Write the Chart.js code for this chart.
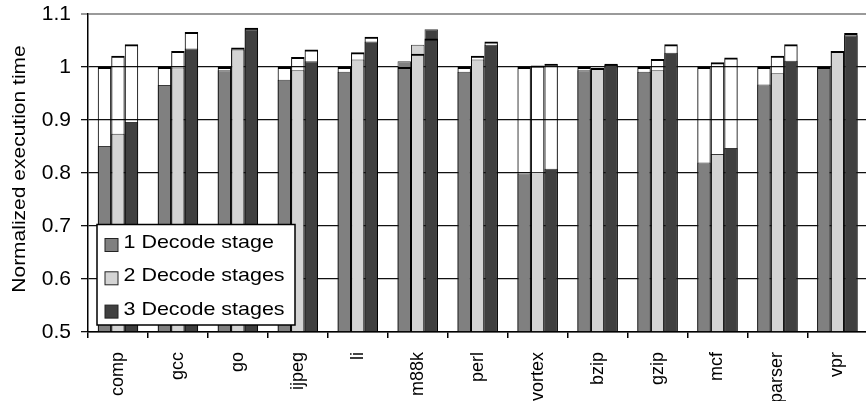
<!DOCTYPE html>
<html>
<head>
<meta charset="utf-8">
<script src="https://cdn.jsdelivr.net/npm/chart.js@4.4.1/dist/chart.umd.min.js"></script>
<style>
  html, body { margin: 0; padding: 0; overflow: hidden; background: #fff; }
  #wrap { width: 873px; height: 401px; }
</style>
</head>
<body>
<div id="wrap"><canvas id="chart" width="873" height="401"></canvas></div>
<script>
// Benchmarks on the x axis
const benchmarks = ['comp', 'gcc', 'go', 'ijpeg', 'li', 'm88k', 'perl', 'vortex', 'bzip', 'gzip', 'mcf', 'parser', 'vpr'];
const stageLabels = ['1 Decode stage', '2 Decode stages', '3 Decode stages'];
const axisTitle = 'Normalized execution time';

// Shaded part of each bar
const oneStage    = [0.851, 0.966, 0.994, 0.976, 0.991, 1.011, 0.991, 0.799, 0.994, 0.991, 0.820, 0.967, 1.000];
const twoStages   = [0.874, 0.999, 1.033, 0.994, 1.014, 1.042, 1.014, 0.802, 0.996, 0.994, 0.836, 0.988, 1.030];
const threeStages = [0.896, 1.035, 1.071, 1.011, 1.048, 1.071, 1.042, 0.808, 1.004, 1.027, 0.847, 1.012, 1.060];

// Outlined total of each bar
const oneStageTotal    = [1.000, 1.000, 1.000, 1.000, 1.000, 1.000, 1.000, 1.000, 1.000, 1.000, 1.000, 1.000, 1.000];
const twoStagesTotal   = [1.021, 1.030, 1.037, 1.019, 1.028, 1.025, 1.021, 1.003, 0.998, 1.015, 1.009, 1.021, 1.030];
const threeStagesTotal = [1.043, 1.066, 1.074, 1.033, 1.057, 1.054, 1.048, 1.006, 1.006, 1.043, 1.018, 1.043, 1.064];

const fillColors = ['#808080', '#d4d4d4', '#404040'];
const stackKeys = ['one', 'two', 'three'];
const FONT = '"Liberation Sans", Arial, sans-serif';

// Shaded bar and its outlined total share one slot (same stack key);
// the value axis is not stacked, so the two simply overlap.
const shaded = [oneStage, twoStages, threeStages].map((data, i) => ({
  label: stageLabels[i],
  data,
  stack: stackKeys[i],
  base: 0.5,
  backgroundColor: fillColors[i],
  borderColor: '#3a3a3a',
  borderWidth: 1,
  categoryPercentage: 0.675,
  barPercentage: 1.0,
  order: 2
}));

const outlined = [oneStageTotal, twoStagesTotal, threeStagesTotal].map((data, i) => ({
  label: stageLabels[i] + ' (total)',
  data,
  stack: stackKeys[i],
  base: 0.5,
  backgroundColor: 'rgba(0,0,0,0)',
  borderColor: '#000',
  borderWidth: { top: 2, left: 1, right: 1, bottom: 0 },
  categoryPercentage: 0.675,
  barPercentage: 1.0,
  order: 1,
  isTotal: true
}));

// Boxed legend sitting inside the plot, plus the rotated y title
const insetLegend = {
  id: 'insetLegend',
  afterDraw(chart) {
    const ctx = chart.ctx;
    const area = chart.chartArea;
    const items = chart.data.datasets.filter(d => !d.isTotal);
    const bx = area.left + 9, by = 224.5, bw = 198, bh = 100.5;
    ctx.save();
    ctx.fillStyle = '#fff';
    ctx.fillRect(bx, by, bw, bh);
    ctx.strokeStyle = '#000';
    ctx.lineWidth = 1.5;
    ctx.strokeRect(bx, by, bw, bh);
    items.forEach((d, i) => {
      const base = 248 + i * 33.3;
      ctx.fillStyle = d.backgroundColor;
      ctx.fillRect(bx + 8, base - 9.5, 13, 13);
      ctx.strokeStyle = '#222';
      ctx.lineWidth = 1;
      ctx.strokeRect(bx + 8, base - 9.5, 13, 13);
      ctx.save();
      ctx.translate(bx + 26.5, base);
      ctx.scale(1.16, 1);
      ctx.fillStyle = '#000';
      ctx.font = '18.5px ' + FONT;
      ctx.textAlign = 'left';
      ctx.textBaseline = 'alphabetic';
      ctx.fillText(d.label, 0, 0);
      ctx.restore();
    });

    ctx.save();
    ctx.translate(25, 169);
    ctx.rotate(-Math.PI / 2);
    ctx.scale(1.2, 1);
    ctx.fillStyle = '#000';
    ctx.font = '17.5px ' + FONT;
    ctx.textAlign = 'center';
    ctx.textBaseline = 'alphabetic';
    ctx.fillText(axisTitle, 0, 0);
    ctx.restore();
    ctx.restore();
  }
};

new Chart(document.getElementById('chart'), {
  type: 'bar',
  data: { labels: benchmarks, datasets: [...shaded, ...outlined] },
  plugins: [insetLegend],
  options: {
    responsive: false,
    animation: false,
    devicePixelRatio: 1,
    layout: { padding: { top: 14, left: 0, right: 0, bottom: 0 } },
    plugins: { legend: { display: false }, tooltip: { enabled: false }, title: { display: false } },
    scales: {
      x: {
        type: 'category',
        offset: true,
        grid: { offset: true, drawOnChartArea: false, drawTicks: true, tickLength: 6, color: '#000', lineWidth: 1.5 },
        border: { display: true, color: '#000', width: 1.5 },
        ticks: {
          autoSkip: false, minRotation: 90, maxRotation: 90, padding: 14,
          color: '#000', font: { family: FONT, size: 18 }
        },
        afterFit(scale) { scale.height = 69; }
      },
      y: {
        min: 0.5,
        max: 1.1,
        stacked: false,
        ticks: {
          stepSize: 0.1,
          padding: 10,
          color: '#000',
          font: { family: FONT, size: 21 },
          callback: v => String(+(+v).toFixed(2))
        },
        grid: {
          color: c => (c.tick && c.tick.value > 1.05) ? '#9a9a9a' : '#111',
          lineWidth: c => (c.tick && c.tick.value > 1.05) ? 2 : 1.3,
          tickLength: 7
        },
        border: { display: true, color: '#000', width: 1.5 },
        afterFit(scale) {
          scale.width = 88;
          scale.paddingTop = 0;
          scale.paddingBottom = 0;
        }
      }
    }
  }
});
</script>
</body>
</html>
